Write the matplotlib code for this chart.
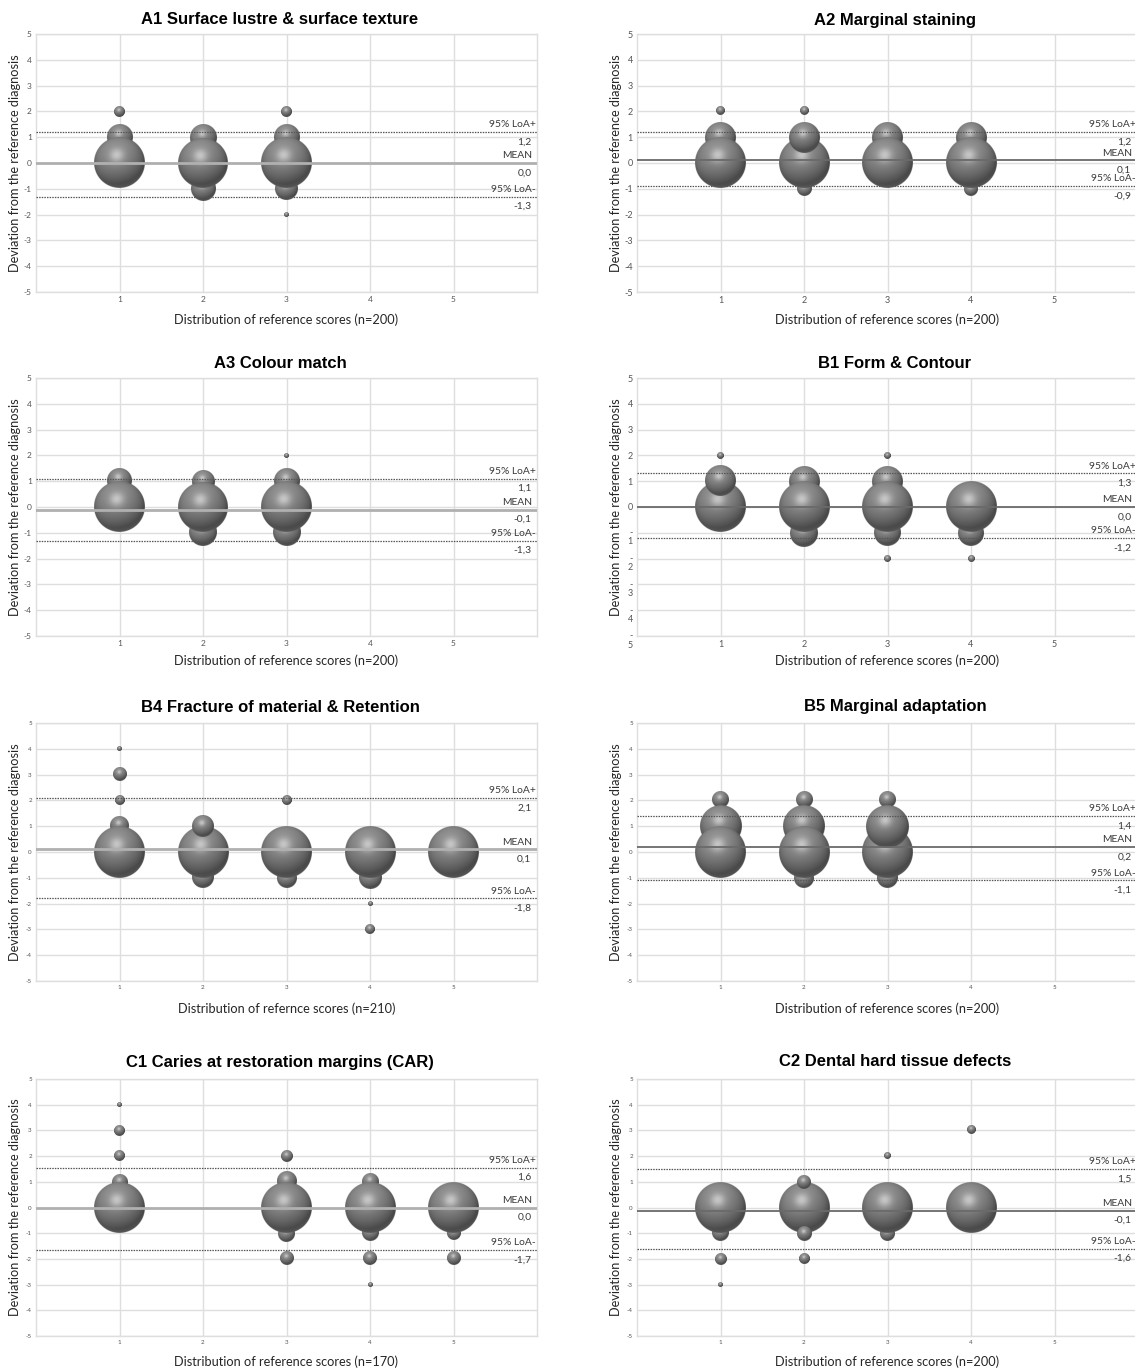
import numpy as np
import matplotlib
matplotlib.use("Agg")
import matplotlib.pyplot as plt
from matplotlib.transforms import blended_transform_factory, ScaledTranslation

W, H, DPI = 1135, 1372, 100

# ---------------- data ----------------
titles = ["A1 Surface lustre & surface texture", "A2 Marginal staining",
          "A3 Colour match", "B1 Form & Contour",
          "B4 Fracture of material & Retention", "B5 Marginal adaptation",
          "C1 Caries at restoration margins (CAR)", "C2 Dental hard tissue defects"]
xlabels = ["Distribution of reference scores (n=200)", "Distribution of reference scores (n=200)",
           "Distribution of reference scores (n=200)", "Distribution of reference scores (n=200)",
           "Distribution of refernce scores (n=210)", "Distribution of reference scores (n=200)",
           "Distribution of reference scores (n=170)", "Distribution of reference scores (n=200)"]
ylabel = "Deviation from the reference diagnosis"
x_ticks = [1, 2, 3, 4, 5]
y_ticks = [5, 4, 3, 2, 1, 0, -1, -2, -3, -4, -5]

a1_x = [1, 1, 1, 2, 2, 2, 3, 3, 3, 3, 3]
a1_y = [2, 1, 0, 1, -1, 0, 2, 1, -1, -2, 0]
a1_n = [5, 29, 120, 33, 27, 115, 5, 29, 24, 1, 120]
a1_lines = [1.2, 0.0, -1.3]
a1_vals = ["1,2", "0,0", "-1,3"]

a2_x = [1, 1, 1, 2, 2, 2, 2, 3, 3, 4, 4, 4]
a2_y = [2, 1, 0, 2, -1, 0, 1, 1, 0, 1, -1, 0]
a2_n = [3, 44, 120, 3, 10, 120, 44, 44, 120, 44, 9, 120]
a2_lines = [1.2, 0.1, -0.9]
a2_vals = ["1,2", "0,1", "-0,9"]

a3_x = [1, 1, 2, 2, 2, 3, 3, 3, 3]
a3_y = [1, 0, 1, -1, 0, 2, 1, -1, 0]
a3_n = [27, 120, 24, 34, 115, 1, 29, 34, 120]
a3_lines = [1.1, -0.1, -1.3]
a3_vals = ["1,1", "-0,1", "-1,3"]

b1_x = [1, 1, 1, 2, 2, 2, 3, 3, 3, 3, 3, 4, 4, 4]
b1_y = [2, 0, 1, 1, -1, 0, 2, -2, 1, -1, 0, -1, -2, 0]
b1_n = [2, 120, 42, 44, 36, 120, 2, 2, 44, 33, 120, 30, 2, 120]
b1_lines = [1.3, 0.0, -1.2]
b1_vals = ["1,3", "0,0", "-1,2"]

b4_x = [1, 1, 1, 1, 1, 2, 2, 2, 3, 3, 3, 4, 4, 4, 4, 5]
b4_y = [4, 3, 2, 1, 0, -1, 0, 1, 2, -1, 0, -1, -2, -3, 0, 0]
b4_n = [1, 8, 4, 15, 120, 21, 120, 21, 4, 18, 120, 23, 1, 4, 120, 120]
b4_lines = [2.1, 0.1, -1.8]
b4_vals = ["2,1", "0,1", "-1,8"]

b5_x = [1, 1, 1, 2, 2, 2, 2, 3, 3, 3, 3]
b5_y = [2, 1, 0, 2, 1, -1, 0, 2, -1, 0, 1]
b5_n = [12, 81, 120, 12, 81, 18, 120, 12, 20, 120, 85]
b5_lines = [1.4, 0.2, -1.1]
b5_vals = ["1,4", "0,2", "-1,1"]

c1_x = [1, 1, 1, 1, 1, 3, 3, 3, 3, 3, 4, 4, 4, 4, 4, 5, 5, 5]
c1_y = [4, 3, 2, 1, 0, 2, 1, -1, -2, 0, 1, -1, -2, -3, 0, -1, -2, 0]
c1_n = [1, 5, 5, 11, 120, 6, 17, 13, 8, 120, 13, 12, 8, 1, 120, 9, 8, 120]
c1_lines = [1.55, 0.0, -1.65]
c1_vals = ["1,6", "0,0", "-1,7"]

c2_x = [1, 1, 1, 1, 2, 2, 2, 2, 3, 3, 3, 4, 4]
c2_y = [-1, -2, -3, 0, -2, 0, 1, -1, 2, -1, 0, 3, 0]
c2_n = [12, 6, 1, 120, 5, 120, 9, 10, 2, 10, 120, 3, 120]
c2_lines = [1.5, -0.12, -1.6]
c2_vals = ["1,5", "-0,1", "-1,6"]

line_names = ["95% LoA+", "MEAN", "95% LoA-"]

panels = [
    (a1_x, a1_y, a1_n, a1_lines, a1_vals),
    (a2_x, a2_y, a2_n, a2_lines, a2_vals),
    (a3_x, a3_y, a3_n, a3_lines, a3_vals),
    (b1_x, b1_y, b1_n, b1_lines, b1_vals),
    (b4_x, b4_y, b4_n, b4_lines, b4_vals),
    (b5_x, b5_y, b5_n, b5_lines, b5_vals),
    (c1_x, c1_y, c1_n, c1_lines, c1_vals),
    (c2_x, c2_y, c2_n, c2_lines, c2_vals),
]

# ---------------- layout / style ----------------
col_left = [36, 637]
ax_w = 501
rows = [(34, 292), (378, 636), (723, 981), (1079, 1336)]
title_x = [280, 895]
title_y = [20, 363, 707, 1062]
xlab_dist = [28, 25, 28, 26]
tick_fs = [6.0, 6.5, 6.0, 6.5, 4.5, 4.5, 4.5, 4.5]
RMAX_PX = 25.5
NMAX = 120.0

GRID = "#dedede"
TXT = "#3a3a3a"
FONT = "Lato"


def sphere_image(N=220):
    t = np.linspace(-1, 1, N)
    u, v = np.meshgrid(t, -t)
    r2 = u ** 2 + v ** 2
    r = np.sqrt(r2)
    nz = np.sqrt(np.clip(1 - r2, 0, 1))
    L = np.array([-0.2, 0.55, 0.81])
    L /= np.linalg.norm(L)
    diff = np.clip(u * L[0] + v * L[1] + nz * L[2], 0, 1)
    Hh = L + np.array([0, 0, 1.0])
    Hh /= np.linalg.norm(Hh)
    spec = np.clip(u * Hh[0] + v * Hh[1] + nz * Hh[2], 0, 1) ** 25
    rim = np.clip(-v, 0, 1) * (1 - nz) ** 1.5
    g = 0.27 + 0.30 * diff + 0.22 * spec + 0.10 * rim
    g = np.clip(g, 0, 1)
    alpha = np.clip((1 - r) * N / 2 + 0.5, 0, 1)
    return np.dstack([g, g, g, alpha])


SPH = sphere_image()

fig = plt.figure(figsize=(W / DPI, H / DPI), dpi=DPI)
fig.patch.set_facecolor("white")

for i, (xs, ys, ns, lines, vals) in enumerate(panels):
    col = i % 2
    row = i // 2
    top, bot = rows[row]
    left = col_left[col]
    ax = fig.add_axes([left / W, (H - bot) / H, ax_w / W, (bot - top) / H])
    ax.set_xlim(0, 6)
    ax.set_ylim(-5, 5)
    ax.set_autoscale_on(False)
    ax.set_axisbelow(True)
    ax.set_xticks(x_ticks)
    ax.set_yticks(y_ticks)
    ax.grid(True, color=GRID, lw=1.0)
    for s in ax.spines.values():
        s.set_color(GRID)
        s.set_linewidth(1.0)
    ax.tick_params(length=0, labelsize=tick_fs[i], labelcolor="#555555", pad=3)
    if i == 3:
        ylabs = [str(v) if v >= 0 else "-\n" + str(-v) for v in y_ticks]
    else:
        ylabs = [str(v) for v in y_ticks]
    ax.set_yticklabels(ylabs, fontfamily=FONT)
    ax.set_xticklabels([str(v) for v in x_ticks], fontfamily=FONT)
    if i == 3:
        for lab in ax.get_yticklabels():
            if "\n" in lab.get_text():
                lab.set_va("top")
                lab.set_linespacing(1.0)
                lab.set_transform(lab.get_transform() +
                                  ScaledTranslation(0, 0.045, fig.dpi_scale_trans))

    # bubbles
    p0 = ax.transData.transform((0, 0))
    p1 = ax.transData.transform((1, 1))
    sx, sy = p1[0] - p0[0], p1[1] - p0[1]
    for x, y, n in zip(xs, ys, ns):
        rpx = RMAX_PX * np.sqrt(n / NMAX)
        rx, ry = rpx / sx, rpx / sy
        ax.imshow(SPH, extent=(x - rx, x + rx, y - ry, y + ry), aspect="auto",
                  interpolation="antialiased", zorder=3, origin="upper")
    ax.set_xlim(0, 6)
    ax.set_ylim(-5, 5)

    # lines
    up, mean, lo = lines
    mcol = "#b0b0b0" if col == 0 else "#6a6a6a"
    mlw = 2.0 if col == 0 else 1.3
    ax.axhline(mean, color=mcol, lw=mlw, zorder=5)
    for yv in (up, lo):
        ax.axhline(yv, color="#555555", lw=0.9, ls=(0, (1.2, 0.9)), zorder=5)

    tr = blended_transform_factory(ax.transAxes, ax.transData)
    xr = 1.0 if col == 0 else (1137 - left) / ax_w
    for k, (yv, nm, vl) in enumerate(zip(lines, line_names, vals)):
        dx_name = -1.0 if k != 1 else -3.5
        ax.annotate(nm, xy=(xr, yv), xycoords=tr, xytext=(dx_name, 5.2),
                    textcoords="offset points", ha="right", va="center",
                    fontsize=7.4, color=TXT, fontfamily=FONT, zorder=6,
                    annotation_clip=False)
        ax.annotate(vl, xy=(xr, yv), xycoords=tr, xytext=(-4.0, -7.2),
                    textcoords="offset points", ha="right", va="center",
                    fontsize=7.4, color=TXT, fontfamily=FONT, zorder=6,
                    annotation_clip=False)

    ax.set_ylabel(ylabel, fontsize=9.2, color="#262626", fontfamily=FONT)
    ax.yaxis.set_label_coords(-21 / ax_w, 0.5)
    ax.yaxis.label.set_va("center")
    ax.set_xlabel(xlabels[i], fontsize=9.2, color="#262626", fontfamily=FONT)
    ax.xaxis.set_label_coords(0.5, -xlab_dist[row] / (bot - top))
    ax.xaxis.label.set_va("center")

    fig.text(title_x[col] / W, 1 - title_y[row] / H, titles[i],
             ha="center", va="center", fontsize=12, fontweight="bold",
             fontfamily="Liberation Sans", color="black")

fig.savefig("out.png", dpi=DPI, facecolor="white")
